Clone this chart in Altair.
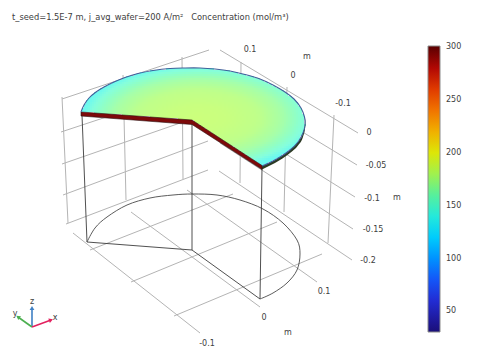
import altair as alt
import numpy as np
import pandas as pd

FONT = "DejaVu Sans"
TITLE = "t_seed=1.5E-7 m, j_avg_wafer=200 A/m\u00b2\u00a0\u00a0\u00a0Concentration (mol/m\u00b3)"
INK = "#404040"

# colour scale of the bar
BAR_VALUES = [30.5, 50, 70, 90, 110, 130, 150, 170, 190, 205, 225, 250, 275, 301]
BAR_COLORS = ["#1a0f78", "#2020b8", "#2038ee", "#2070ff", "#30b0ff", "#30e4f0", "#40ecc0",
              "#80f070", "#c4f020", "#e8e000", "#f0a000", "#f05000", "#c81000", "#5a0000"]
BAR_TICKS = [50, 100, 150, 200, 250, 300]

# lit surface colours and the concentration read along the wafer radius
SURF_VALUES = [128, 145, 165, 180, 195]
SURF_COLORS = ["#62f4fb", "#86fedc", "#a4ffac", "#bcff8e", "#ccff7c"]
RADIUS = [0.0, 0.25, 0.5, 0.7, 0.85, 1.0, 1.25]
CONC = [195, 192, 184, 170, 155, 135, 128]

# wafer outline, in view units
ARC_X = [81, 84, 89, 96, 104, 114, 125, 138, 153, 170, 185, 200, 215, 230, 245, 260, 273, 285, 294, 301, 304.5, 305, 303, 298, 290, 280, 270, 262]
ARC_Y = [112, 105, 98, 92, 87, 82, 77.5, 73.5, 70.5, 68.5, 68, 68, 69, 71, 74.5, 79, 85, 92, 99, 108, 117, 125, 133, 142, 150, 157, 162.5, 166]
APEX = (192, 120)
SIDE_X = [81, 192, 262]
SIDE_TOP = [112, 120, 165.5]
SIDE_BOT = [116, 124.5, 169.5]
RIM_X = [262, 270, 280, 290, 298, 303, 305, 306]
RIM_TOP = [166, 162.5, 157, 150, 142, 133, 125, 118]
RIM_BOT = [169.5, 165.5, 160, 153, 145.5, 137, 129, 120]

# lower outline
LOW_X = [87, 95, 107, 127, 150, 173, 193, 217, 240, 263, 283, 297, 300, 297, 287, 273, 260]
LOW_Y = [242, 228, 217, 205, 198, 195, 194, 195, 200, 209, 223, 240, 254, 270, 283, 293, 299]
EDGE_X1 = [87, 192, 82, 192, 262]
EDGE_Y1 = [242, 250, 115, 124, 168]
EDGE_X2 = [192, 260, 87, 192, 260]
EDGE_Y2 = [250, 299, 242, 250, 299]

# grey grid segments
GRID_X1 = [62, 61, 62, 63, 66, 62, 123, 182,
           220, 220, 220, 220, 219, 241, 287, 334,
           73, 131, 187, 90, 131, 174]
GRID_Y1 = [99, 132, 164, 195, 224, 97, 75, 57,
           50, 82, 113, 143, 171, 62, 87, 115,
           233, 212, 190, 250, 282, 316]
GRID_X2 = [209, 209, 209, 208, 208, 68, 126, 183,
           358, 357, 355, 353, 352, 240, 284, 328,
           200, 260, 317, 233, 277, 322]
GRID_Y2 = [50, 83, 113, 141, 170, 223, 200, 179,
           133, 165, 197, 229, 260, 183, 212, 243,
           333, 307, 282, 194, 222, 254]

# labels
LABELS = ["0.1", "m", "0", "-0.1", "0", "-0.05", "-0.1", "m", "-0.15", "-0.2", "0.1", "0", "m", "-0.1"]
LABEL_X = [250, 307, 293, 343, 369, 376, 372, 397, 373, 368, 324, 264, 288, 207]
LABEL_Y = [50, 57, 76, 104, 133, 166, 199, 198, 230, 261, 292, 318, 333, 344]

# orientation triad
TRIAD_NAMES = ["z", "y", "x"]
TRIAD_COLORS = ["#3f80c4", "#4caf50", "#e3215f"]
TRIAD_X0 = [32, 32, 32]
TRIAD_Y0 = [327, 327, 327]
TRIAD_X1 = [32, 18, 51]
TRIAD_Y1 = [308, 317, 320]
TRIAD_ANGLE = [0, 305, 70]
TRIAD_LABEL_X = [32, 15, 55]
TRIAD_LABEL_Y = [302, 314, 318]

X = alt.X("x:Q", scale=alt.Scale(domain=[8, 473]), axis=None)
Y = alt.Y("y:Q", scale=alt.Scale(domain=[352, 26]), axis=None)


def segs(x1, y1, x2, y2):
    return pd.DataFrame({"x": x1, "y": y1, "x2": x2, "y2": y2})


def rules(df, color, width):
    return alt.Chart(df).mark_rule(color=color, strokeWidth=width).encode(x=X, y=Y, x2="x2:Q", y2="y2:Q")


grid = rules(segs(GRID_X1, GRID_Y1, GRID_X2, GRID_Y2), "#b4b4b4", 1)
edges = rules(segs(EDGE_X1, EDGE_Y1, EDGE_X2, EDGE_Y2), "#3c3c3c", 0.9)
low = alt.Chart(pd.DataFrame({"x": LOW_X, "y": LOW_Y, "o": range(len(LOW_X))})).mark_line(
    color="#4a4a4a", strokeWidth=0.9, interpolate="cardinal").encode(x=X, y=Y, order="o:Q")

# field cells inside the sector
px = np.array(ARC_X + [APEX[0]], float)
py = np.array(ARC_Y + [APEX[1]], float)
gx, gy = np.meshgrid(np.arange(80, 308, 2), np.arange(66, 170, 2))
cx, cy = gx.ravel() + 1.0, gy.ravel() + 1.0
inside = np.zeros(cx.shape, bool)
for i in range(len(px)):
    j = (i - 1) % len(px)
    hit = ((py[i] > cy) != (py[j] > cy)) & (cx < (px[j] - px[i]) * (cy - py[i]) / (py[j] - py[i] + 1e-9) + px[i])
    inside ^= hit
cx, cy = cx[inside], cy[inside]
rad = np.hypot((cx - 198) / 115, (cy - 118) / 52)
cells = pd.DataFrame({"x": cx - 1, "x2": cx + 1, "y": cy - 1, "y2": cy + 1,
                      "conc": np.round(np.interp(rad, RADIUS, CONC), 1)})
field = alt.Chart(cells).mark_rect(strokeWidth=0).encode(
    x=X, y=Y, x2="x2:Q", y2="y2:Q",
    color=alt.Color("conc:Q", legend=None, scale=alt.Scale(domain=SURF_VALUES, range=SURF_COLORS)))

side = alt.Chart(pd.DataFrame({"x": SIDE_X, "y": SIDE_TOP, "y2": SIDE_BOT})).mark_area(
    color="#7d0a0a", stroke="#2a1010", strokeWidth=0.6).encode(x=X, y=Y, y2="y2:Q")
rim = alt.Chart(pd.DataFrame({"x": RIM_X, "y": RIM_TOP, "y2": RIM_BOT})).mark_area(
    color="#2c3a24", interpolate="monotone").encode(x=X, y=Y, y2="y2:Q")
outline = alt.Chart(pd.DataFrame({"x": ARC_X, "y": ARC_Y, "o": range(len(ARC_X))})).mark_line(
    color="#41609a", strokeWidth=1.1, interpolate="cardinal").encode(x=X, y=Y, order="o:Q")

labels = alt.Chart(pd.DataFrame({"x": LABEL_X, "y": LABEL_Y, "t": LABELS})).mark_text(
    font=FONT, fontSize=8, color=INK).encode(x=X, y=Y, text="t:N")

# colour bar: legend plus its ticks
legend_src = alt.Chart(pd.DataFrame({"x": [440], "y": [200], "v": BAR_TICKS[:1]})).mark_circle(size=0, opacity=1).encode(
    x=X, y=Y,
    color=alt.Color("v:Q", scale=alt.Scale(domain=BAR_VALUES, range=BAR_COLORS), legend=alt.Legend(
        title=None, orient="none", legendX=420, legendY=20, direction="vertical", type="gradient",
        gradientLength=286, gradientThickness=12, gradientStrokeColor="#8c8c8c", gradientStrokeWidth=1,
        gradientOpacity=1, values=BAR_TICKS, labelFont=FONT, labelFontSize=8, labelColor=INK, labelOffset=6,
        labelOverlap=False, padding=0)))
tick_y = [46 + (301 - v) / (301 - 30.5) * 286 for v in BAR_TICKS]
bar_ticks = rules(segs([428] * 6 + [438] * 6, tick_y * 2, [430] * 6 + [440] * 6, tick_y * 2), "#222222", 1)

triad = pd.DataFrame({"x": TRIAD_X0, "y": TRIAD_Y0, "x2": TRIAD_X1, "y2": TRIAD_Y1, "name": TRIAD_NAMES,
                      "c": TRIAD_COLORS, "a": TRIAD_ANGLE, "lx": TRIAD_LABEL_X, "ly": TRIAD_LABEL_Y})
triad_lines = alt.Chart(triad).mark_rule(strokeWidth=1.6).encode(
    x=X, y=Y, x2="x2:Q", y2="y2:Q", stroke=alt.Stroke("c:N", scale=None))
triad_heads = alt.Chart(triad).mark_point(shape="triangle-up", filled=True, size=22, opacity=1).encode(
    x=alt.X("x2:Q", scale=alt.Scale(domain=[8, 473]), axis=None),
    y=alt.Y("y2:Q", scale=alt.Scale(domain=[352, 26]), axis=None),
    angle=alt.Angle("a:Q", scale=None), fill=alt.Fill("c:N", scale=None))
triad_text = alt.Chart(triad).mark_text(font=FONT, fontSize=8, color=INK).encode(
    x=alt.X("lx:Q", scale=alt.Scale(domain=[8, 473]), axis=None),
    y=alt.Y("ly:Q", scale=alt.Scale(domain=[352, 26]), axis=None), text="name:N")

chart = alt.layer(
    grid, low, edges, field, rim, side, outline, labels, legend_src, bar_ticks,
    triad_lines, triad_heads, triad_text,
).resolve_scale(color="independent").properties(
    width=465, height=326,
    padding={"left": 0, "right": 0, "top": 18, "bottom": 0},
    autosize=alt.AutoSizeParams(type="none"),
    title=alt.TitleParams(TITLE, anchor="start", font=FONT, fontSize=8.3, fontWeight="normal",
                          color=INK, offset=5, dx=4, frame="group"),
).configure_view(stroke=None)

chart.save("out.html", embed_options={"renderer": "svg", "actions": False})
